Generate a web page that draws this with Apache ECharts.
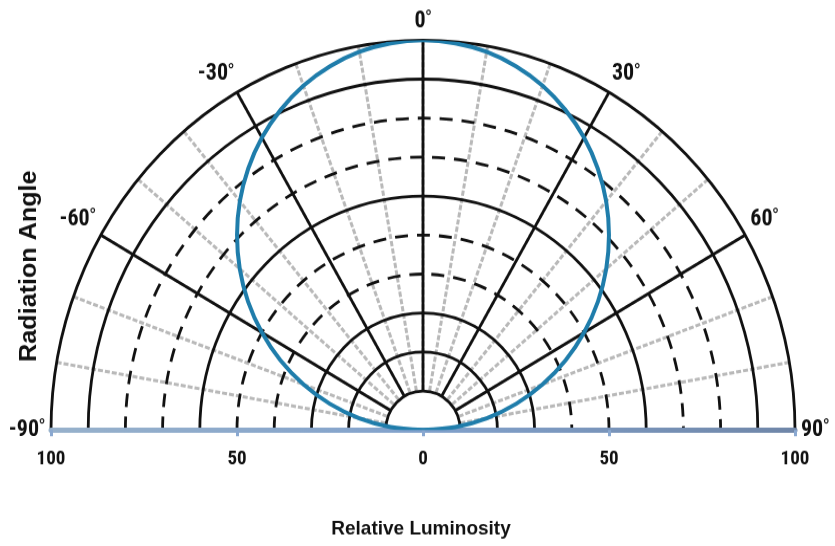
<!DOCTYPE html>
<html>
<head>
<meta charset="utf-8">
<script src="https://cdn.jsdelivr.net/npm/echarts@6/dist/echarts.min.js"></script>
<style>
html,body{margin:0;padding:0;background:#fff;overflow:hidden;width:835px;height:546px;}
#c{width:835px;height:521px;transform:scaleY(1.048);transform-origin:0 0;}
</style>
</head>
<body>
<div id="c"></div>
<script>
// ---- data ----
const angleDeg = [-90,-85,-80,-75,-70,-65,-60,-55,-50,-45,-40,-35,-30,-25,-20,-15,-10,-5,0,
                  5,10,15,20,25,30,35,40,45,50,55,60,65,70,75,80,85,90];
const relLuminosity = [0,8.7,17.4,25.9,34.2,42.3,50,57.4,64.3,70.7,76.6,81.9,86.6,90.6,94,96.6,98.5,99.6,100,
                       99.6,98.5,96.6,94,90.6,86.6,81.9,76.6,70.7,64.3,57.4,50,42.3,34.2,25.9,17.4,8.7,0];
const angleLabelTicks = [-90,-60,-30,0,30,60,90];
const xTickLabels = [-100,-50,0,50,100];
const ringTicks = [10,20,30,40,50,60,70,80,90,100];
const solidRings = [10,20,30,60,90,100];
const dashedRings = [40,50,70,80];

// ---- layout / style ----
const CX = 423, CY = 410.3, R0 = 37.2, R = 372;
const BLACK = '#111111', NONE = 'rgba(0,0,0,0)';
const NARROW = "'Liberation Sans Narrow','Arial Narrow','Roboto Condensed',sans-serif";
const SANS = "'Liberation Sans',Arial,sans-serif";

const chart = echarts.init(document.getElementById('c'));

function angleBase(extra) {
  return Object.assign({
    type: 'value', min: -90, max: 90, startAngle: 180, endAngle: 0, clockwise: true,
    axisLine: {show: false}, axisTick: {show: false}, axisLabel: {show: false}
  }, extra);
}
function radiusBase(extra) {
  return Object.assign({
    type: 'value', min: 10, max: 100, interval: 10,
    axisLine: {show: false}, axisTick: {show: false}, axisLabel: {show: false}
  }, extra);
}

chart.setOption({
  animation: false,
  backgroundColor: '#fff',
  polar: [
    {center: [CX, CY], radius: [R0, R]},
    {center: [CX, CY], radius: [R0, R]},
    {center: [CX, CY], radius: [0, R]}
  ],
  angleAxis: [
    angleBase({polarIndex: 0, interval: 10, z: 1,
      splitLine: {show: true, lineStyle: {color: '#b9b9b9', width: 3, type: [5, 2]}}}),
    angleBase({polarIndex: 1, interval: 30, z: 3,
      splitLine: {show: true, lineStyle: {color: BLACK, width: 2.8}},
      axisLabel: {
        show: true, margin: 6,
        formatter: v => angleLabelTicks.indexOf(v) >= 0 ? '{n|' + v + '}{d|°}' : '',
        rich: {
          n: {fontSize: 22, fontWeight: 'bold', fontFamily: NARROW, color: BLACK},
          d: {fontSize: 15, fontWeight: 'bold', fontFamily: SANS, color: BLACK, padding: [0, 0, 9, 0]}
        }
      }}),
    {polarIndex: 2, type: 'value', min: -90, max: 90, startAngle: 180, endAngle: 0, clockwise: true, show: false}
  ],
  radiusAxis: [
    radiusBase({polarIndex: 0, z: 2,
      splitLine: {show: true, lineStyle: {
        color: ringTicks.map(v => dashedRings.indexOf(v) >= 0 ? BLACK : NONE), width: 2.8, type: [13, 9]}}}),
    radiusBase({polarIndex: 1, z: 3,
      splitLine: {show: true, lineStyle: {
        color: ringTicks.map(v => solidRings.indexOf(v) >= 0 ? BLACK : NONE), width: 2.8}}}),
    {polarIndex: 2, type: 'value', min: 0, max: 100, show: false}
  ],
  grid: {left: CX - R, width: 2 * R, top: 0, bottom: 521 - CY, containLabel: false},
  xAxis: {
    type: 'value', min: xTickLabels[0], max: xTickLabels[xTickLabels.length - 1], interval: 50, z: 6,
    axisLine: {onZero: false, lineStyle: {width: 5,
      color: new echarts.graphic.LinearGradient(0, 0, 1, 0, [
        {offset: 0, color: '#97b1cb'}, {offset: 0.5, color: '#82a2cc'}, {offset: 1, color: '#6f86a8'}])}},
    axisTick: {show: true, length: 6, lineStyle: {color: '#8aa8d0', width: 3}},
    axisLabel: {formatter: v => String(Math.abs(v)), margin: 18, fontSize: 19, fontWeight: 'bold',
      fontFamily: NARROW, color: BLACK},
    splitLine: {show: false}
  },
  yAxis: {type: 'value', min: 0, max: 1, show: false},
  series: [{
    type: 'line', coordinateSystem: 'polar', polarIndex: 2, clip: false, z: 10,
    data: angleDeg.map((a, i) => [relLuminosity[i], a]),
    smooth: 0.3, showSymbol: false, symbol: 'none',
    lineStyle: {color: '#1f7dab', width: 4}
  }],
  graphic: [
    {type: 'text', x: 29, y: 254, rotation: Math.PI / 2,
      style: {text: 'Radiation Angle', font: 'bold 24px ' + SANS, fill: BLACK, align: 'center', verticalAlign: 'middle'}},
    {type: 'text', x: 421, y: 505,
      style: {text: 'Relative Luminosity', font: 'bold 19px ' + SANS, fill: BLACK, align: 'center', verticalAlign: 'middle'}}
  ]
});
</script>
</body>
</html>
